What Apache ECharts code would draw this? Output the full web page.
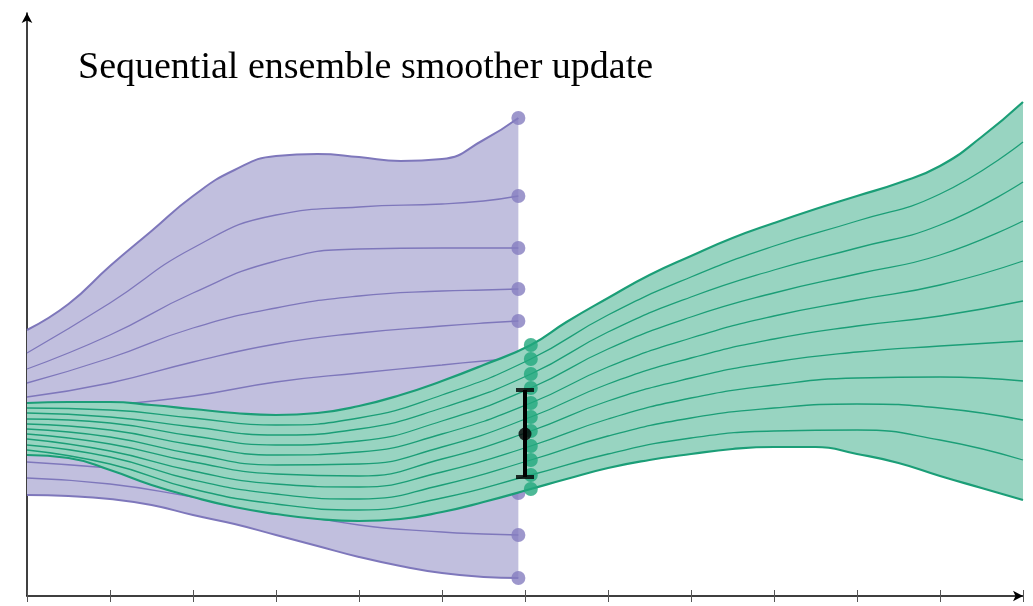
<!DOCTYPE html>
<html>
<head>
<meta charset="utf-8">
<script src="https://cdn.jsdelivr.net/npm/echarts@6/dist/echarts.min.js"></script>
<style>
  html, body { margin: 0; padding: 0; background: #fff; }
  #chart { width: 1033px; height: 606px; }
</style>
</head>
<body>
<div id="chart"></div>
<script>
// ---- Data (schematic units) ----
const titleText = "Sequential ensemble smoother update";

// Prior ensemble (purple): envelope members read at a finer x grid
const xPriorFine = [0, 0.5, 1, 1.5, 2, 2.5, 3, 3.5, 4, 4.5, 5, 5.5, 5.92];
const priorTop    = [26.6, 29.2, 33.0, 36.5, 40.0, 42.6, 44.0, 44.2, 43.9, 43.5, 43.7, 45.6, 47.8];
const priorBottom = [10.1, 10.0,  9.7,  9.1,  8.1,  7.2,  6.1,  5.0,  3.9,  3.0,  2.3,  1.9,  1.8];
// inner prior members
const xPrior = [0, 1, 2, 3, 4, 5, 5.5, 5.92];
const prior2  = [24.3, 29.3, 34.8, 38.1, 38.9, 39.2, 39.5, 40.0];
const prior3  = [22.7, 26.1, 30.3, 33.5, 34.7, 34.8, 34.8, 34.8];
const prior4  = [21.3, 23.8, 26.8, 28.8, 30.0, 30.5, 30.6, 30.7];
const prior5  = [19.9, 21.3, 23.4, 25.2, 26.3, 27.0, 27.3, 27.5];
const prior6  = [18.6, 19.1, 20.0, 21.4, 22.3, 23.1, 23.5, 23.8];
const prior7  = [16.4, 16.4, 16.6, 16.8, 17.1, 17.4, 17.6, 17.8];
const prior8  = [13.4, 12.8, 12.0, 11.2, 10.6, 10.4, 10.3, 10.3];
const prior9  = [11.8, 11.2,  9.9,  8.6,  7.1,  6.4,  6.2,  6.1];

// Updated ensemble (green): envelope members read at a finer x grid (6.07 = update point)
const xPostFine = [0, 0.5, 1, 1.5, 2, 2.5, 3, 3.5, 4, 4.5, 5, 5.5, 6.07, 6.5, 7, 7.5, 8, 8.5, 9, 9.5, 10, 10.5, 11, 11.5, 12];
const postTop    = [19.3, 19.4, 19.4, 19.1, 18.7, 18.3, 18.1, 18.3, 19.0, 20.1, 21.5, 23.1, 25.1, 27.4, 29.8, 32.1, 34.0, 35.8, 37.3, 38.7, 40.0, 41.3, 43.0, 45.9, 49.4];
const postBottom = [14.1, 13.8, 12.6, 11.1,  9.9,  8.9,  8.2,  7.7,  7.5,  7.7,  8.4,  9.4, 10.7, 11.7, 12.8, 13.6, 14.2, 14.7, 14.9, 14.9, 14.2, 13.3, 12.0, 10.8,  9.6];
// inner updated members
const xPost = [0, 1, 2, 3, 4, 5, 6.07, 7, 8, 9, 10, 11, 12];
const post2  = [18.8, 18.6, 17.8, 17.1, 17.8, 20.1, 23.7, 28.1, 31.9, 35.0, 37.5, 40.2, 45.4];
const post3  = [18.3, 17.9, 16.9, 16.1, 16.7, 18.8, 22.2, 26.4, 29.9, 32.6, 34.8, 37.1, 41.4];
const post4  = [17.7, 17.3, 16.0, 15.1, 15.5, 17.5, 20.8, 24.7, 27.9, 30.3, 32.2, 34.1, 37.5];
const post5  = [17.2, 16.6, 15.1, 14.1, 14.4, 16.2, 19.3, 22.9, 25.8, 28.0, 29.6, 31.1, 33.5];
const post6  = [16.7, 15.9, 14.2, 13.1, 13.2, 14.9, 17.9, 21.2, 23.8, 25.7, 27.0, 28.0, 29.5];
const post7  = [16.2, 15.2, 13.4, 12.2, 12.0, 13.7, 16.5, 19.5, 21.8, 23.4, 24.4, 25.0, 25.5];
const post8  = [15.7, 14.5, 12.5, 11.2, 10.9, 12.4, 15.0, 17.7, 19.8, 21.1, 21.8, 21.9, 21.5];
const post9  = [15.1, 13.9, 11.6, 10.2,  9.7, 11.1, 13.6, 16.0, 17.8, 18.8, 19.2, 18.8, 17.6];
const post10 = [14.6, 13.2, 10.7,  9.2,  8.6,  9.8, 12.1, 14.2, 15.8, 16.5, 16.6, 15.6, 13.6];
const updateX = 6.07;

// Observation with error bar
const obsX = [6];
const obsMean = [16.2];
const obsLow = [11.9];
const obsHigh = [20.6];

const xTickInterval = 1;

// ---- Build options ----
const PURPLE_FILL = '#c1bfde';
const PURPLE_LINE = '#7e77bb';
const PURPLE_DOT = '#847dbf';
const GREEN_FILL = '#98d4c1';
const GREEN_LINE = '#1b9e77';
const GREEN_DOT = '#22a77d';

function pts(xs, ys) { return xs.map((x, i) => [x, ys[i]]); }
// swapped column order ([y, x]) so the stack applies to the y dimension
function ptsYX(xs, ys) { return xs.map((x, i) => [ys[i], x]); }

const priorMembers = [
  { x: xPriorFine, y: priorTop, edge: true },
  { x: xPrior, y: prior2 }, { x: xPrior, y: prior3 }, { x: xPrior, y: prior4 },
  { x: xPrior, y: prior5 }, { x: xPrior, y: prior6 }, { x: xPrior, y: prior7 },
  { x: xPrior, y: prior8 }, { x: xPrior, y: prior9 },
  { x: xPriorFine, y: priorBottom, edge: true }
];
const postMembers = [
  { x: xPostFine, y: postTop, edge: true },
  { x: xPost, y: post2 }, { x: xPost, y: post3 }, { x: xPost, y: post4 },
  { x: xPost, y: post5 }, { x: xPost, y: post6 }, { x: xPost, y: post7 },
  { x: xPost, y: post8 }, { x: xPost, y: post9 }, { x: xPost, y: post10 },
  { x: xPostFine, y: postBottom, edge: true }
];

const series = [];

function band(stackName, xs, top, bot, color, z) {
  series.push({
    type: 'line', stack: stackName, encode: { x: 1, y: 0 },
    data: ptsYX(xs, bot), smooth: true,
    showSymbol: false, lineStyle: { opacity: 0, width: 0 }, silent: true, z: z
  });
  series.push({
    type: 'line', stack: stackName, encode: { x: 1, y: 0 },
    data: ptsYX(xs, xs.map((x, i) => top[i] - bot[i])), smooth: true,
    showSymbol: false, lineStyle: { opacity: 0, width: 0 },
    areaStyle: { color: color, opacity: 1 }, silent: true, z: z
  });
}

// purple band, lines, dots
band('pband', xPriorFine, priorTop, priorBottom, PURPLE_FILL, 1);
priorMembers.forEach(m => {
  series.push({
    type: 'line', data: pts(m.x, m.y), smooth: true, showSymbol: false, silent: true, z: 2,
    lineStyle: { color: PURPLE_LINE, width: m.edge ? 2 : 1.3 }
  });
});
series.push({
  type: 'scatter', symbol: 'circle', symbolSize: 14, z: 3, silent: true,
  itemStyle: { color: PURPLE_DOT },
  data: priorMembers.map(m => [m.x[m.x.length - 1], m.y[m.y.length - 1]])
});

// green band, lines, dots
band('gband', xPostFine, postTop, postBottom, GREEN_FILL, 4);
postMembers.forEach(m => {
  series.push({
    type: 'line', data: pts(m.x, m.y), smooth: true, showSymbol: false, silent: true, z: 5,
    lineStyle: { color: GREEN_LINE, width: m.edge ? 2.2 : 1.3 }
  });
});
series.push({
  type: 'scatter', symbol: 'circle', symbolSize: 14, z: 6, silent: true,
  itemStyle: { color: GREEN_DOT },
  data: postMembers.map(m => { const i = m.x.indexOf(updateX); return [m.x[i], m.y[i]]; })
});

// error bar
series.push({
  type: 'line', z: 7, silent: true, showSymbol: false,
  lineStyle: { color: '#000', width: 4 },
  data: [[obsX[0], obsLow[0]], [obsX[0], obsHigh[0]]]
});
series.push({
  type: 'scatter', symbol: 'rect', symbolSize: [18, 4], z: 8, silent: true,
  itemStyle: { color: '#000' },
  data: [[obsX[0], obsLow[0]], [obsX[0], obsHigh[0]]]
});
series.push({
  type: 'scatter', symbol: 'circle', symbolSize: 13, z: 8, silent: true,
  itemStyle: { color: '#000' },
  data: [[obsX[0], obsMean[0]]]
});

const option = {
  animation: false,
  backgroundColor: '#fff',
  title: {
    text: titleText, left: 78, top: 49, padding: 0,
    textStyle: { fontFamily: 'Liberation Serif', fontSize: 38, fontWeight: 'normal', color: '#000' }
  },
  grid: { left: 27, right: 10, top: 13, bottom: 10, containLabel: false },
  xAxis: [
    {
      type: 'value', min: 0, max: 12, interval: xTickInterval,
      axisLine: { show: true, onZero: false, symbol: ['none', 'arrow'], symbolSize: [8, 10], lineStyle: { color: '#000', width: 1.5 } },
      axisTick: { show: true, length: 6, lineStyle: { color: '#555', width: 1 } },
      axisLabel: { show: false }, splitLine: { show: false }
    },
    {
      type: 'value', min: 0, max: 12, interval: xTickInterval, position: 'bottom',
      axisLine: { show: false, onZero: false },
      axisTick: { show: true, inside: true, length: 6, lineStyle: { color: '#555', width: 1 } },
      axisLabel: { show: false }, splitLine: { show: false }
    }
  ],
  yAxis: {
    type: 'value', min: 0, max: 58.3,
    axisLine: { show: true, onZero: false, symbol: ['none', 'arrow'], symbolSize: [8, 10], lineStyle: { color: '#000', width: 1.5 } },
    axisTick: { show: false }, axisLabel: { show: false }, splitLine: { show: false }
  },
  series: series
};

const chart = echarts.init(document.getElementById('chart'), null, { renderer: 'canvas' });
chart.setOption(option);
</script>
</body>
</html>
